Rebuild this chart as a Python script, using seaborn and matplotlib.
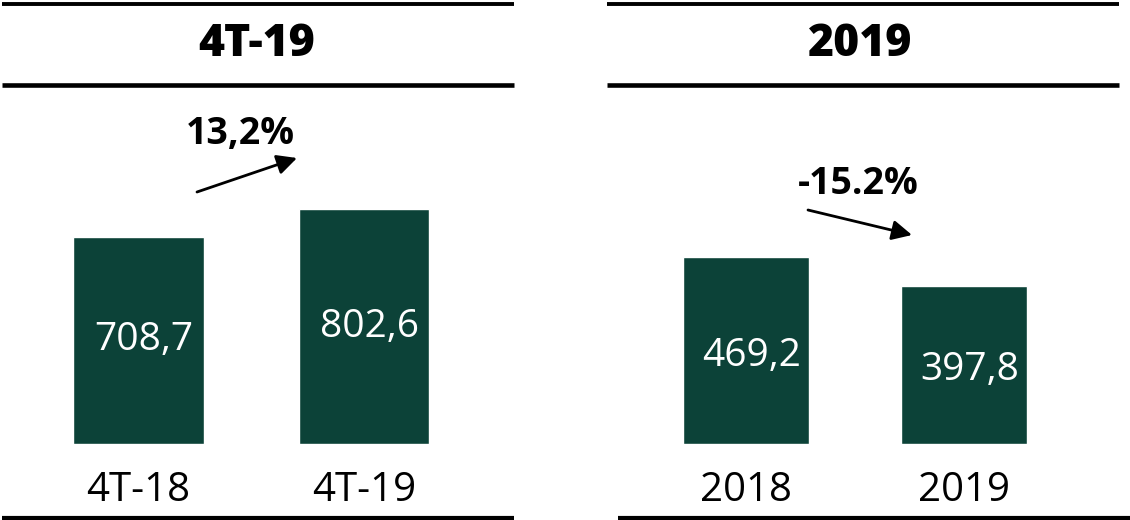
import matplotlib
matplotlib.use("Agg")
import matplotlib.pyplot as plt
import seaborn as sns
import pandas as pd
from matplotlib.lines import Line2D
from matplotlib.patches import FancyArrowPatch

# ---- data ----
left_title = "4T-19"
left_categories = ["4T-18", "4T-19"]
left_values = [708.7, 802.6]
left_change = "13,2%"

right_title = "2019"
right_categories = ["2018", "2019"]
right_values = [469.2, 397.8]
right_change = "-15.2%"

BAR_COLOR = "#0c4238"
W, H = 1130, 520

sns.set_theme(style="white")
plt.rcParams["font.family"] = ["Open Sans", "DejaVu Sans"]

fig = plt.figure(figsize=(W / 100, H / 100), dpi=100)


def fx(x):
    return x / W


def fy(y):
    return 1 - y / H


def hline(x0, x1, y, lw):
    fig.add_artist(Line2D([fx(x0), fx(x1)], [fy(y), fy(y)], color="black",
                          lw=lw, solid_capstyle="butt", transform=fig.transFigure))


def panel(px0, px1, c0, c1, cats, vals, ymax, title, tcx, label_dy):
    ax = fig.add_axes([fx(px0), fy(444), fx(px1) - fx(px0), (444 - 100) / H])
    df = pd.DataFrame({"cat": cats, "val": vals})
    sns.barplot(data=df, x="cat", y="val", ax=ax, color=BAR_COLOR,
                width=0.58, saturation=1)
    step = c1 - c0
    ax.set_xlim((px0 - c0) / step, (px1 - c0) / step)
    ax.set_ylim(0, ymax)
    ax.set_xlabel("")
    ax.set_ylabel("")
    ax.set_yticks([])
    ax.tick_params(axis="x", length=0, pad=19, labelsize=29, labelcolor="black")
    for s in ax.spines.values():
        s.set_visible(False)
    ax.patch.set_alpha(0)
    labels = [f"{v:.1f}".replace(".", ",") for v in vals]
    texts = ax.bar_label(ax.containers[0], labels=labels, label_type="center",
                         color="white", fontsize=28)
    for t in texts:
        t.xyann = (4, -label_dy)
    fig.text(fx(tcx), fy(44), title, ha="center", va="center",
             fontsize=32, fontweight=800, color="black")
    return ax


panel(2, 514, 138.5, 364, left_categories, left_values, 344 / 0.2925,
      left_title, 257, 0)
panel(607, 1119, 746, 964, right_categories, right_values, 344 / 0.398,
      right_title, 860, 4)

# header / footer rules
hline(2, 514, 3.5, 2.8)
hline(2, 514, 84.5, 3.3)
hline(2, 514, 518, 3.0)
hline(607, 1119, 3.5, 2.8)
hline(607, 1119, 84.5, 3.3)
hline(618, 1130, 518, 3.0)

# change arrows
for (x0, y0), (x1, y1) in [((197, 192), (297, 158)), ((808, 210), (912, 235))]:
    fig.add_artist(FancyArrowPatch(
        (fx(x0), fy(y0)), (fx(x1), fy(y1)), transform=fig.transFigure,
        arrowstyle="-|>,head_length=12,head_width=6", color="black", lw=2,
        shrinkA=0, shrinkB=0, mutation_scale=1))
fig.text(fx(240), fy(134), left_change, ha="center", va="center",
         fontsize=27, fontweight="bold", color="black")
fig.text(fx(858), fy(184), right_change, ha="center", va="center",
         fontsize=27, fontweight="bold", color="black")

fig.savefig("out.png", dpi=100, facecolor="white")
